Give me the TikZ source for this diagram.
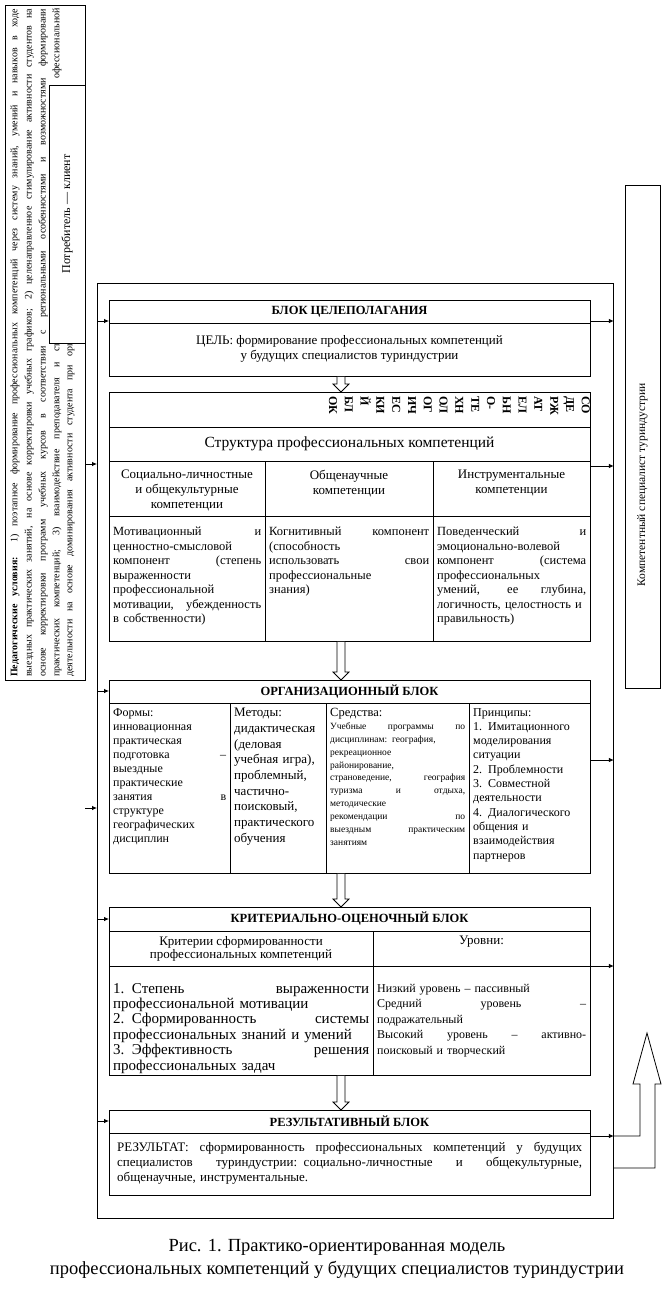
\documentclass[tikz,border=0pt]{standalone}
\usepackage{fontspec}
\setmainfont{Liberation Serif}
\usetikzlibrary{arrows.meta,calc,positioning}
\definecolor{ink}{HTML}{000000}
\newcommand{\fs}[2]{\fontsize{#1}{#2}\selectfont}
\newcommand{\jl}[1]{{\spaceskip=0.3333em plus 1fil\relax\makebox[\hsize][s]{#1}}\\}
\newcommand{\hollowdown}[2]{%
  \draw[hollow] let \p1=(#1), \p2=(#2) in
    (\x1-4pt,\y1) -- (\x1-4pt,\y2+8pt) -- (\x1-8pt,\y2+8pt) -- (\x1,\y2)
    -- (\x1+8pt,\y2+8pt) -- (\x1+4pt,\y2+8pt) -- (\x1+4pt,\y1);}

\begin{document}
\begin{tikzpicture}[
    x=1pt, y=-1pt,
    font=\fs{12.5}{14.5},
    panel/.style={draw=ink, line width=0.8pt, inner sep=0pt},
    blockbox/.style={draw=ink, line width=0.8pt, anchor=north west,
        minimum width=481pt, inner sep=0pt},
    rule/.style={draw=ink, line width=0.8pt},
    head/.style={font=\fs{12.5}{14}\bfseries, inner sep=0pt},
    cell/.style={anchor=north west, inner sep=0pt, align=left},
    centercell/.style={inner sep=0pt, align=center},
    link/.style={-{Latex[length=5pt,width=4.5pt]}, draw=ink, line width=0.8pt},
    hollow/.style={draw=ink, line width=0.8pt, fill=white},
    vline/.style={rotate=90, inner sep=0pt, font=\fs{10}{12}}
]
\useasboundingbox (0,0) rectangle (662,1292);

% Left column: conditions and client.
\node[panel, minimum width=80pt, minimum height=675pt, anchor=north west] (cond) at (5,5) {};
\node[vline, anchor=west] (condA) at (15,677)
    {\makebox[668pt][s]{\textbf{Педагогические условия:} 1) поэтапное формирование профессиональных компетенций через систему знаний, умений и навыков в ходе}};
\node[vline, anchor=west] (condB) at (29,677)
    {\makebox[668pt][s]{выездных практических занятий, на основе корректировки учебных графиков; 2) целенаправленное стимулирование активности студентов на}};
\node[vline, anchor=west] (condC) at (43,677)
    {\makebox[668pt][s]{основе корректировки программ учебных курсов в соответствии с региональными особенностями и возможностями формировани}};
\node[vline, anchor=west] (condD) at (57,677)
    {\makebox[334pt][s]{практических компетенций; 3) взаимодействие преподавателя и ст}};
\node[vline, anchor=east] (condDtop) at (57,8) {офессиональной};
\node[vline, anchor=west] (condE) at (71,677)
    {\makebox[334pt][s]{деятельности на основе доминирования активности студента при орг}};
\node[panel, fill=white, rotate=90, minimum width=258pt, minimum height=36pt,
    font=\fs{12}{14}] (client) at (67,214) {Потребитель — клиент};

% Right column: outcome.
\node[panel, minimum width=35pt, minimum height=503pt, anchor=north west] (spec) at (625,185) {};
\node[rotate=90, inner sep=0pt, font=\fs{11.5}{13}] (specText) at (642.5,485)
    {Компетентный специалист туриндустрии};

% Outer frame and blocks.
\node[panel, minimum width=516pt, minimum height=935pt, anchor=north west] (outer) at (97,283) {};
\coordinate (axis) at (341,0);

% Block 1.
\node[blockbox, minimum height=76pt] (b1) at (109,300) {};
\draw[rule] (109,323) -- (590,323);
\node[head] (b1head) at (349.5,311.5) {БЛОК ЦЕЛЕПОЛАГАНИЯ};
\node[centercell, font=\fs{13}{15}] (b1body) at (349.5,349)
    {ЦЕЛЬ: формирование профессиональных компетенций\\у будущих специалистов туриндустрии};

% Block 2.
\node[blockbox, minimum height=249pt] (b2) at (109,392) {};
\draw[rule] (109,427) -- (590,427);
\draw[rule] (109,461) -- (590,461);
\draw[rule] (109,516) -- (590,516);
\draw[rule] (265,461) -- (265,641);
\draw[rule] (433,461) -- (433,641);
\node[rotate=-90, anchor=north west, inner sep=0pt, text width=26pt, align=left,
    font=\fs{12}{15.8}\bfseries] (b2letters) at (590,396)
    {СО\\ДЕ\\РЖ\\АТ\\ЕЛ\\ЬН\\О-\\ТЕ\\ХН\\ОЛ\\ОГ\\ИЧ\\ЕС\\КИ\\Й\\БЛ\\ОК};
\node[centercell, font=\fs{15.5}{17}] (b2title) at (349.5,444) {Структура профессиональных компетенций};
\node[centercell, anchor=north, font=\fs{13}{15}] (b2headA) at (187,470)
    {Социально-личностные\\и общекультурные\\компетенции};
\node[centercell, anchor=north, font=\fs{13}{15}] (b2headB) at (349,470) {Общенаучные\\компетенции};
\node[centercell, anchor=north, font=\fs{13}{15}] (b2headC) at (511.5,470) {Инструментальные\\компетенции};
\node[cell, text width=148pt] (b2cellA) at (113,527)
    {\jl{Мотивационный и}ценностно-смысловой\\\jl{компонент (степень}выраженности\\профессиональной\\\jl{мотивации, убежденность}в собственности)};
\node[cell, text width=160pt] (b2cellB) at (269,527)
    {\jl{Когнитивный компонент}(способность\\\jl{использовать свои}профессиональные\\знания)};
\node[cell, text width=149pt] (b2cellC) at (437,527)
    {\jl{Поведенческий и}эмоционально-волевой\\\jl{компонент (система}профессиональных\\\jl{умений, ее глубина,}логичность, целостность и\\правильность)};

% Block 3.
\node[blockbox, minimum height=193pt] (b3) at (109,680) {};
\draw[rule] (109,703) -- (590,703);
\draw[rule] (230,703) -- (230,873);
\draw[rule] (326,703) -- (326,873);
\draw[rule] (469,703) -- (469,873);
\node[head] (b3head) at (349.5,691.5) {ОРГАНИЗАЦИОННЫЙ БЛОК};
\node[cell, text width=113pt, font=\fs{12}{14.1}] (b3cellA) at (113,708)
    {Формы:\\инновационная\\практическая\\\jl{подготовка –}выездные\\практические\\\jl{занятия в}структуре\\географических\\дисциплин};
\node[cell, text width=88pt, font=\fs{13}{15.7}] (b3cellB) at (234,708)
    {Методы:\\дидактическая\\(деловая\\учебная игра),\\проблемный,\\частично-\\поисковый,\\практического\\обучения};
\node[cell, text width=135pt, font=\fs{9.5}{12.9}] (b3cellC) at (330,708)
    {{\fs{12.5}{14}Средства:}\\\jl{Учебные программы по}\jl{дисциплинам: география,}рекреационное\\районирование,\\\jl{страноведение, география}\jl{туризма и отдыха,}методические\\\jl{рекомендации по}\jl{выездным практическим}занятиям};
\node[cell, text width=113pt, font=\fs{12}{14.3}] (b3cellD) at (473,708)
    {Принципы:\\\jl{1. Имитационного}моделирования\\ситуации\\2. Проблемности\\3. Совместной\\деятельности\\4. Диалогического\\общения и\\взаимодействия\\партнеров};

% Block 4.
\node[blockbox, minimum height=168pt] (b4) at (109,907) {};
\draw[rule] (109,931) -- (590,931);
\draw[rule] (109,966) -- (590,966);
\draw[rule] (373,931) -- (373,1075);
\node[head] (b4head) at (349.5,919) {КРИТЕРИАЛЬНО-ОЦЕНОЧНЫЙ БЛОК};
\node[centercell, font=\fs{13}{13.5}] (b4subA) at (241,949)
    {Критерии сформированности\\профессиональных компетенций};
\node[centercell, font=\fs{13}{13.5}] (b4subB) at (481.5,942) {Уровни:};
\node[cell, text width=256pt, font=\fs{15}{15.4}] (b4cellA) at (113,983)
    {\jl{1. Степень выраженности}профессиональной мотивации\\\jl{2. Сформированность системы}профессиональных знаний и умений\\\jl{3. Эффективность решения}профессиональных задач};
\node[cell, text width=209pt, font=\fs{12}{15.4}] (b4cellB) at (377,984)
    {Низкий уровень – пассивный\\\jl{Средний уровень –}подражательный\\\jl{Высокий уровень – активно-}поисковый и творческий};

% Block 5.
\node[blockbox, minimum height=85pt] (b5) at (109,1110) {};
\draw[rule] (109,1133) -- (590,1133);
\node[head] (b5head) at (349.5,1121.5) {РЕЗУЛЬТАТИВНЫЙ БЛОК};
\node[cell, text width=465pt, font=\fs{13}{15}] (b5body) at (117,1142)
    {\jl{РЕЗУЛЬТАТ: сформированность профессиональных компетенций у будущих}\jl{специалистов туриндустрии: социально-личностные и общекультурные,}общенаучные, инструментальные.};

% Flow between blocks.
\hollowdown{b1.south -| axis}{b2.north -| axis}
\hollowdown{b2.south -| axis}{b3.north -| axis}
\hollowdown{b3.south -| axis}{b4.north -| axis}
\hollowdown{b4.south -| axis}{b5.north -| axis}

% Inputs on the left.
\coordinate (stub) at (85,808);
\draw[link] (cond.east |- 0,464) -- (outer.west |- 0,464);
\draw[link] (stub) -- (outer.west |- stub);
\draw[link] (outer.west |- 0,321) -- (b1.west |- 0,321);
\draw[link] (outer.west |- 0,691) -- (b3.west |- 0,691);
\draw[link] (outer.west |- 0,919) -- (b4.west |- 0,919);
\draw[link] (outer.west |- 0,1121) -- (b5.west |- 0,1121);

% Outputs on the right.
\draw[link] (b1.east |- 0,321) -- (outer.east |- 0,321);
\draw[link] (b2.east |- 0,466) -- (outer.east |- 0,466);
\draw[link] (b3.east |- 0,760) -- (outer.east |- 0,760);
\draw[link] (b4.east |- 0,966) -- (outer.east |- 0,966);
\draw[link] (b5.east |- 0,1136) -- (outer.east |- 0,1136);
\draw[hollow, fill=none] (outer.east |- 0,1136) -- (640,1136) -- (640,1084) -- (633,1084)
    -- (647,1033) -- (661,1084) -- (655,1084) -- (655,1168) -- (outer.east |- 0,1168);

% Caption.
\node[centercell, font=\fs{18.5}{23}] (caption) at (337,1259)
    {Рис. 1. Практико-ориентированная модель\\профессиональных компетенций у будущих специалистов туриндустрии};

\end{tikzpicture}
\end{document}
